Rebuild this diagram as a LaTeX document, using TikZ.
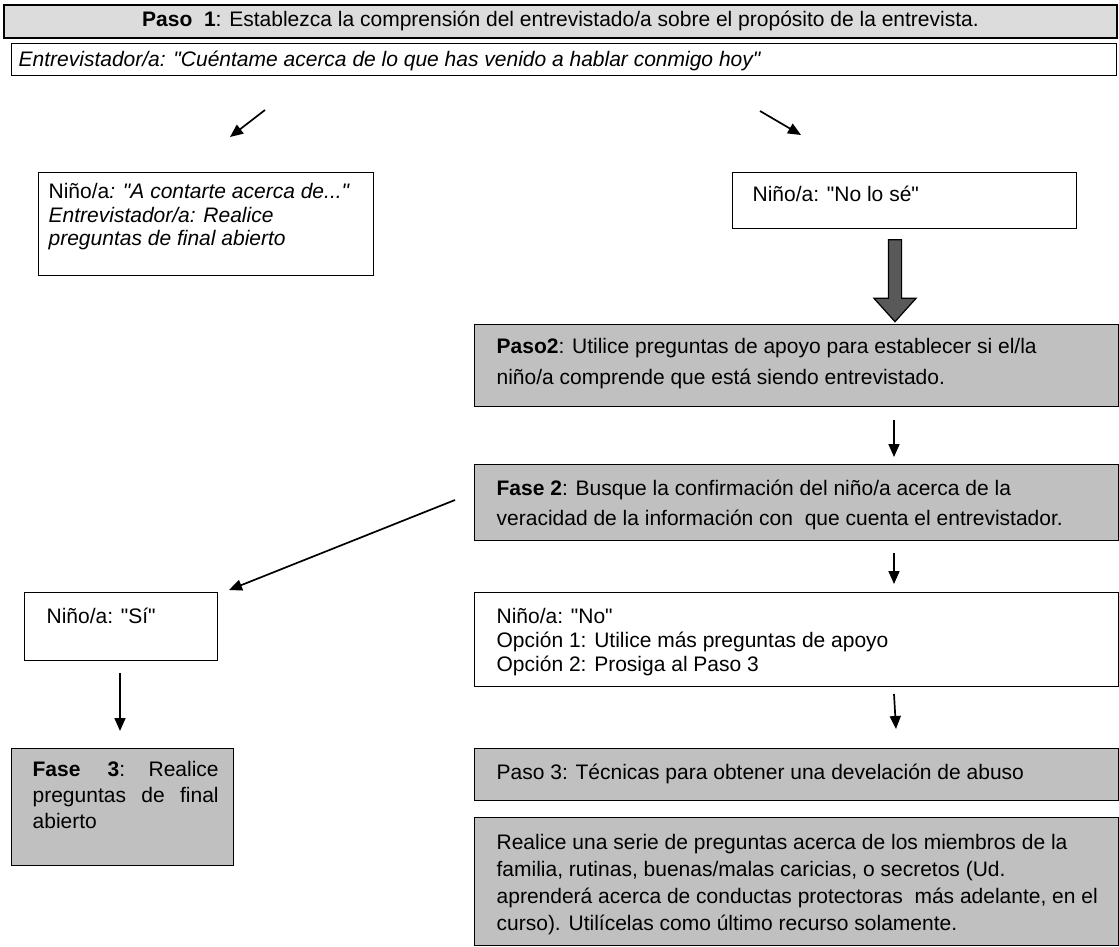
\documentclass[tikz,border=0pt]{standalone}
\usepackage{fontspec}
\setmainfont{Liberation Sans}
\newfontfamily\arialf{Liberation Sans}
\usetikzlibrary{arrows.meta,shapes.arrows}
\definecolor{boxgray}{HTML}{C0C0C0}
\definecolor{toplight}{HTML}{DCDCDC}
\definecolor{arrowgray}{HTML}{595959}
% #1 width, #2 height, #3 left pad, #4 first baseline, #5 baselineskip, #6 text
\newcommand{\cell}[6]{\parbox[t][#2][t]{#1}{\arialf\fontsize{21bp}{#5}\selectfont
  \parindent=0pt\leftskip=#3\relax\rightskip=0pt plus 1fil\relax\tolerance=10000
  \hyphenpenalty=10000\exhyphenpenalty=10000
  \vspace*{\dimexpr#4-\ht\strutbox\relax}\strut #6\par}}
\begin{document}
\begin{tikzpicture}[x=1bp,y=-1bp,
  box/.style={draw=black, line width=1.3bp, inner sep=0pt, anchor=north west},
  gbox/.style={box, fill=boxgray},
  arr/.style={line width=1.7bp, -{Triangle[length=13bp,width=11bp]}},
  bigarrow/.style={single arrow, draw=black, line width=1.2bp, fill=arrowgray,
    inner sep=6bp, single arrow head extend=14.5bp, single arrow tip angle=84,
    minimum height=82bp, rotate=-90}
]
\useasboundingbox (0,0) rectangle (1119,947);

% Step 1
\node[draw=black, line width=2bp, fill=toplight, minimum width=1112bp, minimum height=33bp,
  inner sep=0pt, font=\arialf\fontsize{21bp}{24bp}\selectfont] (p1) at (560.5,21)
  {\textbf{Paso\ \ 1}: Establezca la comprensión del entrevistado/a sobre el propósito de la entrevista.};
\node[box] (ent) at (11,43)
  {\cell{1105bp}{32bp}{7bp}{23bp}{24bp}{\itshape Entrevistador/a: "Cuéntame acerca de lo que has venido a hablar conmigo hoy"}};

% left answer
\node[box] (ninoA) at (38,172)
  {\cell{335bp}{103bp}{10bp}{26bp}{23.5bp}{Niño/a\textit{: "A contarte acerca de..."}\\
   \textit{Entrevistador/a: Realice}\\ \textit{preguntas de final abierto}}};

% right answer
\node[box] (nolose) at (732,172)
  {\cell{344bp}{56bp}{20bp}{29bp}{24bp}{Niño/a: "No lo sé"}};

% Step 2
\node[gbox] (p2) at (474,324)
  {\cell{644bp}{82bp}{22bp}{29bp}{31bp}{\textbf{Paso2}: Utilice preguntas de apoyo para establecer si el/la\\
   niño/a comprende que está siendo entrevistado.}};

\node[gbox] (f2) at (474,464)
  {\cell{644bp}{76bp}{22bp}{31bp}{30bp}{\textbf{Fase 2}: Busque la confirmación del niño/a acerca de la\\
   veracidad de la información con\ \ que cuenta el entrevistador.}};

\node[box] (si) at (24,592)
  {\cell{193bp}{68bp}{22bp}{31bp}{24bp}{Niño/a: "Sí"}};

\node[box] (no) at (474,592)
  {\cell{644bp}{94bp}{22bp}{31bp}{24bp}{Niño/a: "No"\\ Opción 1: Utilice más preguntas de apoyo\\ Opción 2: Prosiga al Paso 3}};

\node[gbox] (f3) at (11,748)
  {\cell{222bp}{117bp}{21bp}{28bp}{26bp}{\rightskip=15bp\relax
   \textbf{Fase\ \ 3}: Realice preguntas de final abierto}};

\node[gbox] (p3) at (474,748)
  {\cell{644bp}{52bp}{22bp}{31bp}{24bp}{Paso 3: Técnicas para obtener una develación de abuso}};

\node[gbox] (rs) at (474,817)
  {\cell{644bp}{128bp}{22bp}{32bp}{27bp}{Realice una serie de preguntas acerca de los miembros de la\\
   familia, rutinas, buenas/malas caricias, o secretos (Ud.\\
   aprenderá acerca de conductas protectoras\ \ más adelante, en el\\
   curso). Utilícelas como último recurso solamente.}};

% connectors
\coordinate (a1s) at (265,110); \coordinate (a1e) at (230,137);
\coordinate (a2s) at (760,111); \coordinate (a2e) at (801,135);
\draw[arr] (a1s) -- (a1e);
\draw[arr] (a2s) -- (a2e);

\node[bigarrow] (big) at (895,277) {};

\coordinate (a3s) at (894,420); \coordinate (a3e) at (894,457);
\draw[arr] (a3s) -- (a3e);
\coordinate (a4s) at (455,500); \coordinate (a4e) at (229,590);
\draw[arr] (a4s) -- (a4e);
\coordinate (a5s) at (894,553); \coordinate (a5e) at (894,584);
\draw[arr] (a5s) -- (a5e);
\coordinate (a6s) at (120,673); \coordinate (a6e) at (120,731);
\draw[arr] (a6s) -- (a6e);
\coordinate (a7s) at (894,694); \coordinate (a7e) at (896,729);
\draw[arr] (a7s) -- (a7e);
\end{tikzpicture}
\end{document}
